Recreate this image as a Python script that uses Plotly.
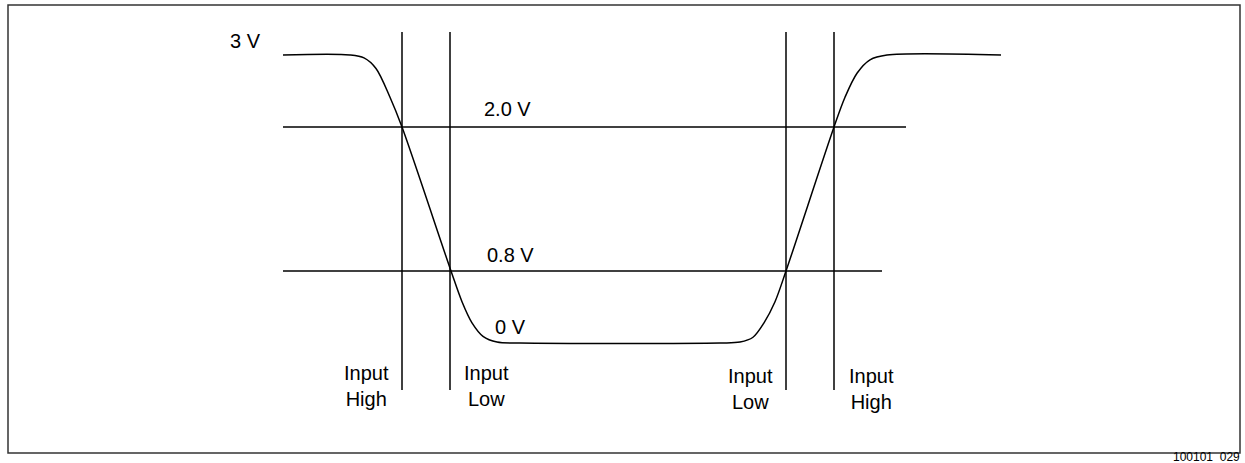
import plotly.graph_objects as go

# waveform (x in diagram time units, y in diagram volt units; schematic, not to scale)
wave_x = [283, 350, 364, 376, 390, 402, 451, 462, 472, 483, 497, 520,
          720, 740, 753, 764, 775, 786, 834, 845, 857, 870, 887, 1001]
wave_y = [3.0, 3.0, 2.97, 2.86, 2.56, 2.25, 0.75, 0.43, 0.21, 0.07, 0.01, 0.0,
          0.0, 0.01, 0.06, 0.21, 0.43, 0.75, 2.25, 2.56, 2.81, 2.95, 3.0, 3.0]

# threshold lines
level_y = [2.25, 0.75]
level_x0 = [283, 283]
level_x1 = [906, 882]

# input sampling markers
marker_x = [402, 450, 786, 834]
marker_top = 3.24
marker_bottom = -0.49

# text labels
volt_labels = ["3 V", "2.0 V", "0.8 V", "0 V"]
volt_label_x = [245, 507, 510, 510]
volt_label_y = [3.15, 2.44, 0.92, 0.17]

input_labels = ["Input<br>High", "Input<br>Low", "Input<br>Low", "Input<br>High"]
input_label_x = [366, 486, 750, 871]
input_label_y = [-0.18, -0.18, -0.21, -0.21]

fig_id = "100101_029"

BLACK = "#000000"
FONT = "Arial, Liberation Sans, sans-serif"

fig = go.Figure()

fig.add_trace(go.Scatter(x=wave_x, y=wave_y, mode="lines",
                         line=dict(color=BLACK, width=1.5, shape="spline", smoothing=0.9),
                         hoverinfo="skip"))

for y, x0, x1 in zip(level_y, level_x0, level_x1):
    fig.add_trace(go.Scatter(x=[x0, x1], y=[y, y], mode="lines",
                             line=dict(color=BLACK, width=1.5), hoverinfo="skip"))

for x in marker_x:
    fig.add_trace(go.Scatter(x=[x, x], y=[marker_top, marker_bottom], mode="lines",
                             line=dict(color=BLACK, width=1.5), hoverinfo="skip"))

for t, x, y in zip(volt_labels, volt_label_x, volt_label_y):
    fig.add_annotation(x=x, y=y, text=t, showarrow=False,
                       font=dict(family=FONT, size=20, color=BLACK))

for t, x, y in zip(input_labels, input_label_x, input_label_y):
    fig.add_annotation(x=x, y=y, text=t, showarrow=False, yanchor="top",
                       font=dict(family=FONT, size=20, color=BLACK))

# outer frame
fig.add_shape(type="rect", x0=8, x1=1240, y0=-1.146, y1=3.521,
              line=dict(color="#333333", width=1.5))

fig.add_annotation(x=1242, y=-1.19, text=fig_id, showarrow=False, xanchor="right",
                   font=dict(family=FONT, size=12, color=BLACK))

fig.update_layout(
    width=1245, height=463,
    margin=dict(l=0, r=0, t=0, b=0),
    paper_bgcolor="white", plot_bgcolor="white",
    showlegend=False,
    xaxis=dict(range=[0, 1245], visible=False, fixedrange=True),
    yaxis=dict(range=[-1.25, 343 / 96], visible=False, fixedrange=True),
)

fig.write_html("out.html", config={"displayModeBar": False},
               post_script="document.body.style.margin='0';document.body.style.overflow='hidden';")
